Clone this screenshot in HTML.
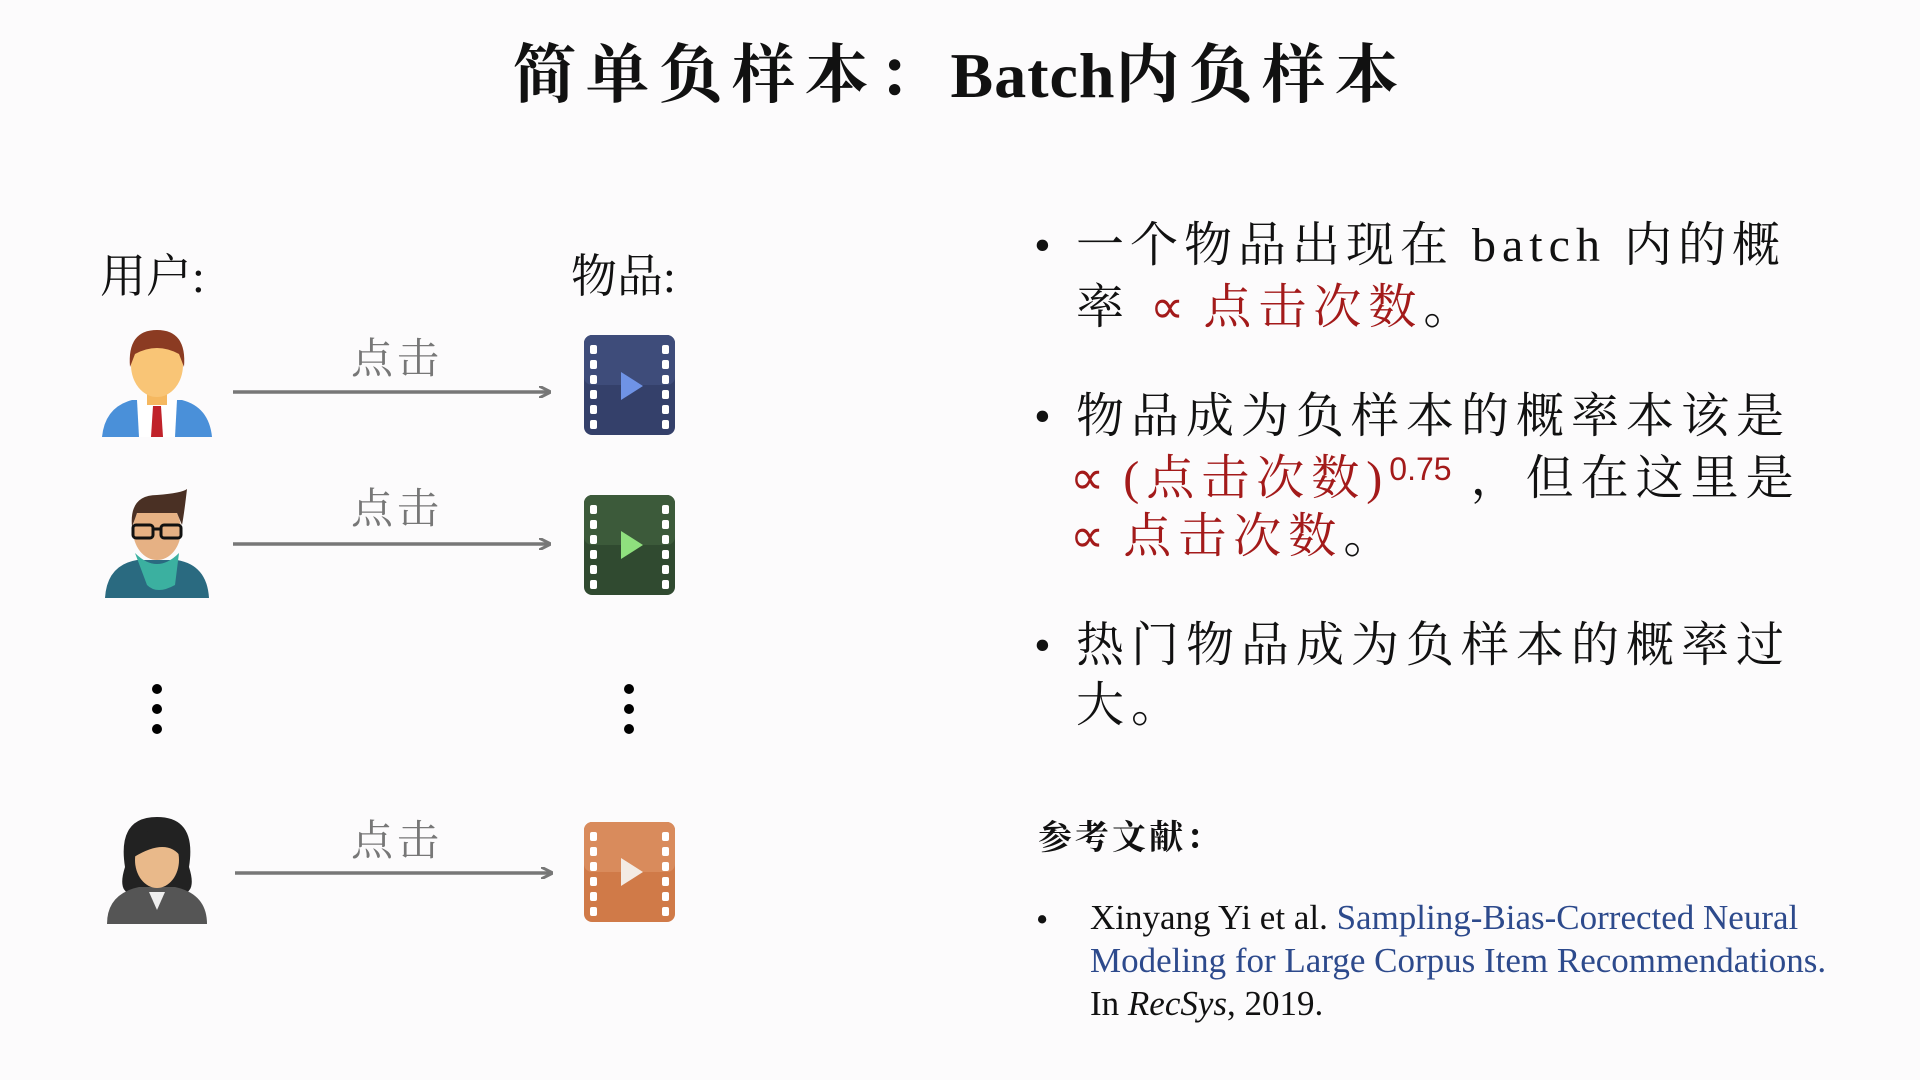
<!DOCTYPE html>
<html><head><meta charset="utf-8"><style>
body{margin:0;width:1920px;height:1080px;background:#fcfbfc;position:relative;overflow:hidden;font-family:"Liberation Serif","Noto Serif CJK SC",serif;color:#111}
.a{position:absolute;white-space:nowrap}
.t{font-size:48px;letter-spacing:7px;line-height:1}
.r{color:#a31a1a}
.p{font-family:"Liberation Serif",serif;letter-spacing:0}
.lbl{font-size:42px;color:#777;letter-spacing:4px}
.ref{font-size:35px;line-height:1}
.bl{color:#2d4a8c}
</style></head><body>
<div class="a" style="left:0;width:1920px;text-align:center;top:24px;font-size:64px;font-weight:bold;letter-spacing:9px">简单负样本：<span style="letter-spacing:1px">Batch</span>内负样本</div>

<div class="a" style="left:100px;top:240px;font-size:46px">用户:</div>
<div class="a" style="left:571px;top:240px;font-size:46px">物品:</div>

<svg class="a" style="left:0;top:0" width="960" height="1080">
<defs><marker id="ar" markerWidth="12" markerHeight="12" refX="10" refY="6" orient="auto" markerUnits="userSpaceOnUse"><path d="M0,0 L12,6 L0,12" fill="none" stroke="#777" stroke-width="3"/></marker></defs>
<g stroke="#777" stroke-width="3.5" fill="none">
<line x1="233" y1="392" x2="549" y2="392" marker-end="url(#ar)"/>
<line x1="233" y1="544" x2="549" y2="544" marker-end="url(#ar)"/>
<line x1="235" y1="873" x2="551" y2="873" marker-end="url(#ar)"/>
</g>
<g fill="#000"><circle cx="157" cy="689" r="5"/><circle cx="157" cy="709" r="5"/><circle cx="157" cy="729" r="5"/>
<circle cx="629" cy="689" r="5"/><circle cx="629" cy="709" r="5"/><circle cx="629" cy="729" r="5"/></g>
<g transform="translate(157,382)">
<path d="M-55,55 Q-52,25 -25,18 L25,18 Q52,25 55,55 Z" fill="#4a90d9"/>
<path d="M-20,18 L20,18 L18,55 L-18,55 Z" fill="#fff"/>
<path d="M-4,24 L4,24 L6,55 L-6,55 Z" fill="#c0222a"/>
<rect x="-10" y="5" width="20" height="18" fill="#f5b860"/>
<ellipse cx="0" cy="-17" rx="26" ry="32" fill="#f9c576"/>
<path d="M-27,-15 Q-30,-52 0,-52 Q30,-52 27,-15 L22,-28 Q0,-40 -22,-28 Z" fill="#8b3b22"/>
</g>
<g transform="translate(157,545)">
<path d="M-52,53 Q-50,20 -20,15 L20,15 Q50,20 52,53 Z" fill="#2a6a80"/>
<path d="M-22,8 Q0,30 22,8 L18,40 Q0,50 -10,40 Z" fill="#3bb0a0"/>
<ellipse cx="0" cy="-15" rx="24" ry="30" fill="#e6b184"/>
<path d="M-25,-18 Q-28,-50 0,-50 Q25,-52 30,-56 Q27,-30 25,-20 L20,-32 L-20,-32 Z" fill="#4a3024"/>
<g fill="none" stroke="#111" stroke-width="3"><rect x="-24" y="-20" width="20" height="13" rx="3"/><rect x="4" y="-20" width="20" height="13" rx="3"/><line x1="-4" y1="-16" x2="4" y2="-16"/></g>
</g>
<g transform="translate(157,872)">
<path d="M-32,-5 Q-40,-55 0,-55 Q40,-55 32,-5 Q40,20 25,22 L-25,22 Q-40,20 -32,-5 Z" fill="#222"/>
<path d="M-50,52 Q-50,22 -18,15 L18,15 Q50,22 50,52 Z" fill="#555"/>
<path d="M-8,20 L8,20 L0,38 Z" fill="#eee"/>
<ellipse cx="0" cy="-12" rx="22" ry="28" fill="#e9b98a"/>
<path d="M-23,-15 Q-20,-45 5,-43 Q22,-38 24,-15 Q10,-35 -23,-15 Z" fill="#222"/>
</g>
<g>
<rect x="584" y="335" width="91" height="100" rx="8" fill="#34406a"/><rect x="584" y="335" width="91" height="50" rx="8" fill="#3e4c7a"/>
<rect x="584" y="495" width="91" height="100" rx="8" fill="#304a30"/><rect x="584" y="495" width="91" height="50" rx="8" fill="#3c5a3a"/>
<rect x="584" y="822" width="91" height="100" rx="8" fill="#d07a48"/><rect x="584" y="822" width="91" height="50" rx="8" fill="#d98b5c"/>
<path d="M621,372 L643,386 L621,400 Z" fill="#6f93e6"/>
<path d="M621,531 L643,545 L621,559 Z" fill="#8fe07e"/>
<path d="M621,858 L643,872 L621,886 Z" fill="#f3ebe4"/>
</g>
<g fill="#fff">
<rect x="590" y="345" width="7" height="9" rx="2"/><rect x="590" y="360" width="7" height="9" rx="2"/><rect x="590" y="375" width="7" height="9" rx="2"/><rect x="590" y="390" width="7" height="9" rx="2"/><rect x="590" y="405" width="7" height="9" rx="2"/><rect x="590" y="420" width="7" height="9" rx="2"/>
<rect x="662" y="345" width="7" height="9" rx="2"/><rect x="662" y="360" width="7" height="9" rx="2"/><rect x="662" y="375" width="7" height="9" rx="2"/><rect x="662" y="390" width="7" height="9" rx="2"/><rect x="662" y="405" width="7" height="9" rx="2"/><rect x="662" y="420" width="7" height="9" rx="2"/>
<rect x="590" y="505" width="7" height="9" rx="2"/><rect x="590" y="520" width="7" height="9" rx="2"/><rect x="590" y="535" width="7" height="9" rx="2"/><rect x="590" y="550" width="7" height="9" rx="2"/><rect x="590" y="565" width="7" height="9" rx="2"/><rect x="590" y="580" width="7" height="9" rx="2"/>
<rect x="662" y="505" width="7" height="9" rx="2"/><rect x="662" y="520" width="7" height="9" rx="2"/><rect x="662" y="535" width="7" height="9" rx="2"/><rect x="662" y="550" width="7" height="9" rx="2"/><rect x="662" y="565" width="7" height="9" rx="2"/><rect x="662" y="580" width="7" height="9" rx="2"/>
<rect x="590" y="832" width="7" height="9" rx="2"/><rect x="590" y="847" width="7" height="9" rx="2"/><rect x="590" y="862" width="7" height="9" rx="2"/><rect x="590" y="877" width="7" height="9" rx="2"/><rect x="590" y="892" width="7" height="9" rx="2"/><rect x="590" y="907" width="7" height="9" rx="2"/>
<rect x="662" y="832" width="7" height="9" rx="2"/><rect x="662" y="847" width="7" height="9" rx="2"/><rect x="662" y="862" width="7" height="9" rx="2"/><rect x="662" y="877" width="7" height="9" rx="2"/><rect x="662" y="892" width="7" height="9" rx="2"/><rect x="662" y="907" width="7" height="9" rx="2"/>
</g>
</svg>
<div class="a lbl" style="left:351px;top:326px">点击</div>
<div class="a lbl" style="left:351px;top:476px">点击</div>
<div class="a lbl" style="left:351px;top:808px">点击</div>

<div class="a t" style="left:1034px;top:222px">•</div>
<div class="a t" style="left:1076px;top:222px;letter-spacing:6px">一个物品出现在 batch 内的概</div>
<div class="a t" style="left:1076px;top:284px">率 <span class="r"><span class="p">∝</span> 点击次数</span>。</div>

<div class="a t" style="left:1034px;top:393px">•</div>
<div class="a t" style="left:1076px;top:393px">物品成为负样本的概率本该是</div>
<div class="a t" style="left:1070px;top:453px"><span class="r"><span class="p">∝</span> (点击次数)<sup style="font-family:'Liberation Sans',sans-serif;font-size:32px;letter-spacing:0;vertical-align:14px">0.75</sup></span> ，但在这里是</div>
<div class="a t" style="left:1070px;top:513px"><span class="r"><span class="p">∝</span> 点击次数</span>。</div>

<div class="a t" style="left:1034px;top:622px">•</div>
<div class="a t" style="left:1076px;top:622px">热门物品成为负样本的概率过</div>
<div class="a t" style="left:1076px;top:682px">大。</div>

<div class="a" style="left:1038px;top:810px;font-size:34px;font-weight:bold;letter-spacing:3px">参考文献：</div>
<div class="a ref" style="left:1036px;top:902px">•</div>
<div class="a ref" style="left:1090px;top:900px">Xinyang Yi et al. <span class="bl">Sampling-Bias-Corrected Neural</span></div>
<div class="a ref" style="left:1090px;top:943px"><span class="bl">Modeling for Large Corpus Item Recommendations.</span></div>
<div class="a ref" style="left:1090px;top:986px">In <i>RecSys</i>, 2019.</div>
</body></html>
